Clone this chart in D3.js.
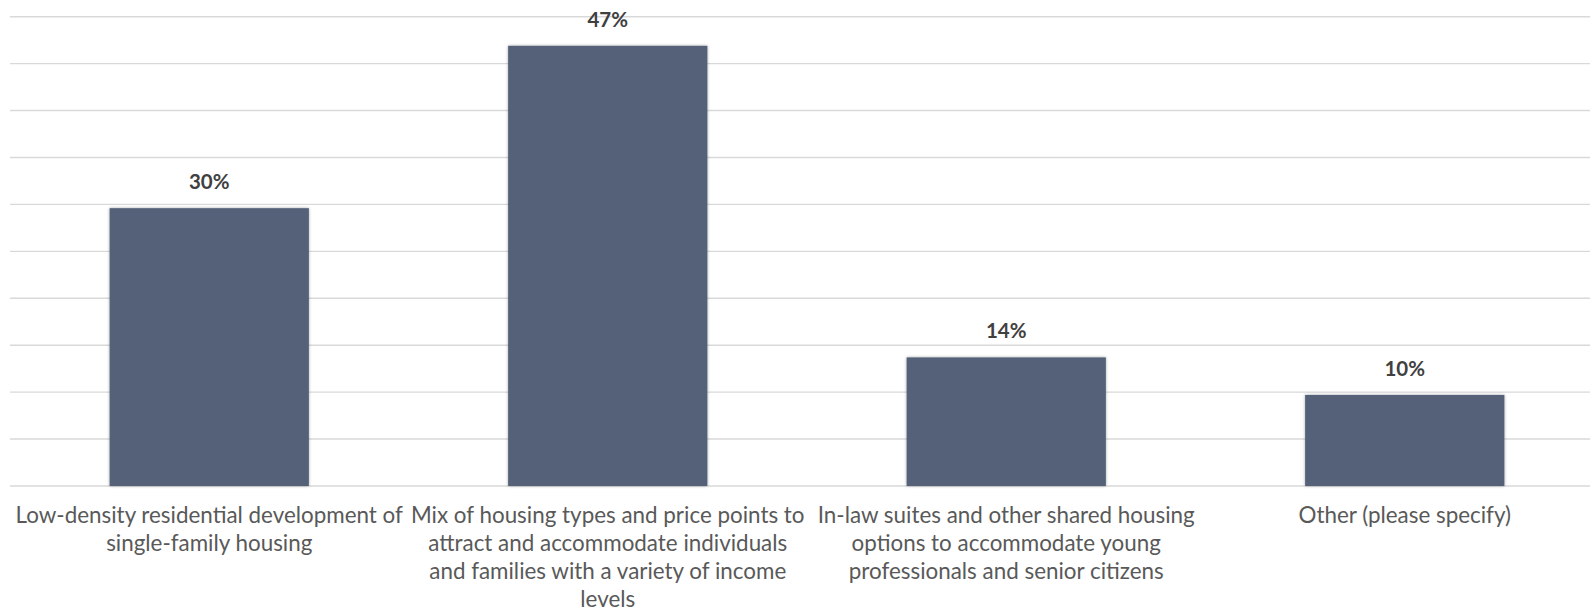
<!DOCTYPE html>
<html>
<head>
<meta charset="utf-8">
<script src="https://cdnjs.cloudflare.com/ajax/libs/d3/7.8.5/d3.min.js"></script>
<style>
	body { margin: 0; background: #FFFFFF; }
	#vis_container { width: 1590px; height: 611px; }
</style>
</head>
<body>
<div id="vis_container"></div>
<script>
// chart data
var categories = [
	["Low-density residential development of", "single-family housing"],
	["Mix of housing types and price points to", "attract and accommodate individuals", "and families with a variety of income", "levels"],
	["In-law suites and other shared housing", "options to accommodate young", "professionals and senior citizens"],
	["Other (please specify)"]
];
var values = [29.6, 46.9, 13.7, 9.7];
var valueLabels = ["30%", "47%", "14%", "10%"];
var gridTicks = [0, 5, 10, 15, 20, 25, 30, 35, 40, 45, 50];

var chart = {};
chart.width = 1590;
chart.height = 611;
chart.margin = {"top": 16.7, "left": 10, "right": -14, "bottom": 125};

chart.svg = d3.select("#vis_container").append("svg")
	.attr("width", chart.width)
	.attr("height", chart.height)
	.style("background-color", "#FFFFFF");

var defs = chart.svg.append("defs");
var shadow = defs.append("filter")
	.attr("id", "barShadow")
	.attr("x", "-10%").attr("y", "-10%")
	.attr("width", "120%").attr("height", "120%");
shadow.append("feDropShadow")
	.attr("dx", 0).attr("dy", 0)
	.attr("stdDeviation", 1.5)
	.attr("flood-color", "#000000")
	.attr("flood-opacity", 0.35);

chart.xScale = d3.scaleBand()
	.domain(d3.range(categories.length))
	.range([chart.margin.left, chart.width - chart.margin.right])
	.paddingInner(0.5)
	.paddingOuter(0.25);

chart.yScale = d3.scaleLinear()
	.domain([0, 50])
	.range([chart.height - chart.margin.bottom, chart.margin.top]);

// gridlines
chart.svg.append("g")
	.selectAll("line")
	.data(gridTicks)
	.enter().append("line")
	.attr("x1", chart.margin.left)
	.attr("x2", chart.width)
	.attr("y1", function(d) { return chart.yScale(d); })
	.attr("y2", function(d) { return chart.yScale(d); })
	.attr("stroke", "#D9D9D9")
	.attr("stroke-width", 1.4);

// bars
chart.svg.append("g")
	.selectAll("rect")
	.data(values)
	.enter().append("rect")
	.attr("x", function(d, i) { return chart.xScale(i); })
	.attr("y", function(d) { return chart.yScale(d); })
	.attr("width", chart.xScale.bandwidth())
	.attr("height", function(d) { return chart.yScale(0) - chart.yScale(d); })
	.attr("fill", "#546179")
	.attr("filter", "url(#barShadow)");

// value labels
chart.svg.append("g")
	.selectAll("text")
	.data(values)
	.enter().append("text")
	.attr("x", function(d, i) { return chart.xScale(i) + chart.xScale.bandwidth() / 2; })
	.attr("y", function(d) { return chart.yScale(d) - 19; })
	.attr("text-anchor", "middle")
	.attr("font-family", "Lato, 'Open Sans', sans-serif")
	.attr("font-weight", "bold")
	.attr("font-size", "20.5px")
	.attr("fill", "#404040")
	.text(function(d, i) { return valueLabels[i]; });

// category labels
var catGroups = chart.svg.append("g")
	.selectAll("text")
	.data(categories)
	.enter().append("text")
	.attr("text-anchor", "middle")
	.attr("font-family", "Lato, 'Open Sans', sans-serif")
	.attr("font-size", "22.4px")
	.attr("fill", "#595959");

catGroups.each(function(lines, i) {
	var cx = chart.xScale(i) + chart.xScale.bandwidth() / 2;
	d3.select(this).selectAll("tspan")
		.data(lines)
		.enter().append("tspan")
		.attr("x", cx)
		.attr("y", function(d, j) { return 522.5 + j * 28; })
		.text(function(d) { return d; });
});
</script>
</body>
</html>
